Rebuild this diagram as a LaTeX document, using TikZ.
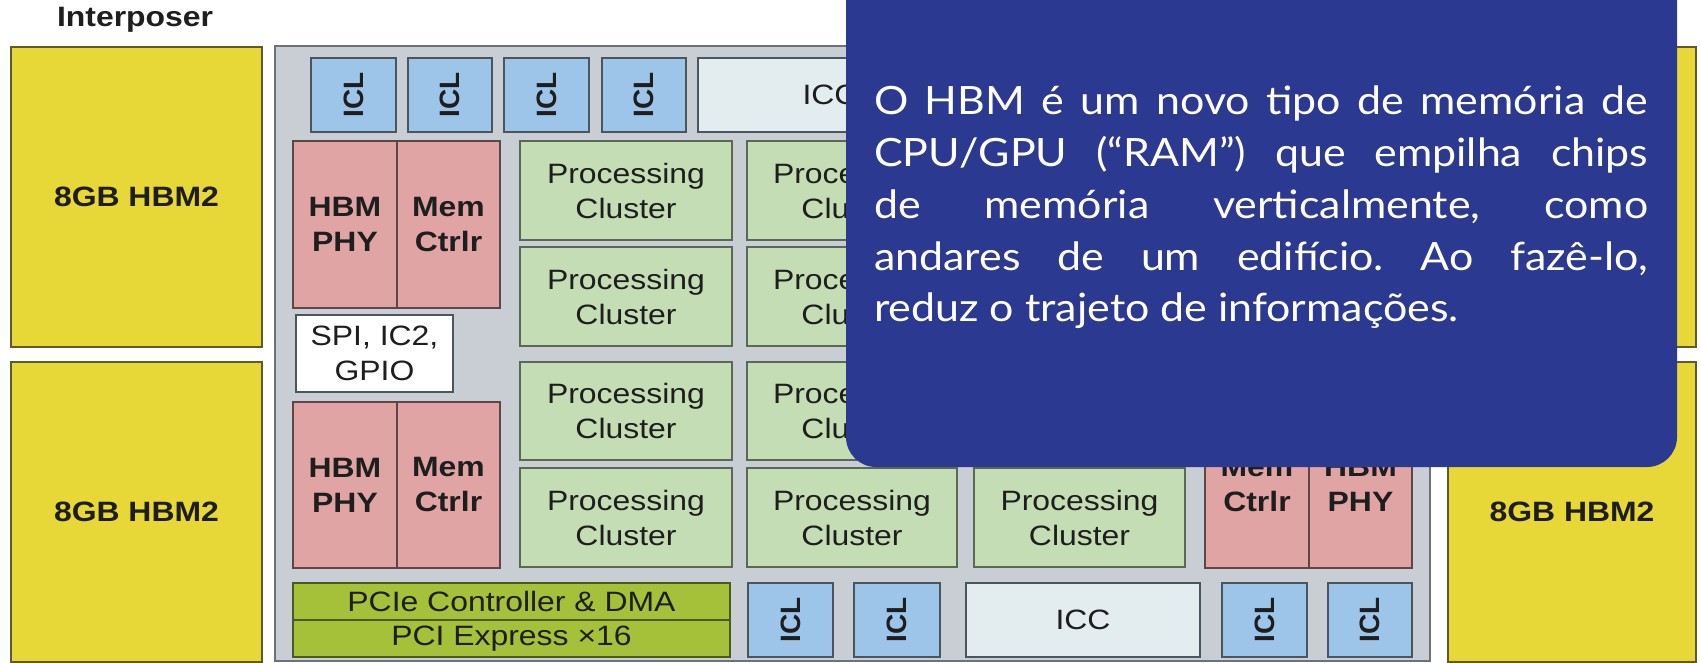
\documentclass[tikz,border=0pt]{standalone}
\usepackage{fontspec}
\newfontfamily\dg[FakeStretch=1.14]{Liberation Sans}
\newfontfamily\dgn{Liberation Sans}
\newfontfamily\ovf[FakeStretch=1.1]{Lato}
\definecolor{hbmy}{RGB}{231,216,56}
\definecolor{ybord}{RGB}{95,90,45}
\definecolor{diegray}{RGB}{201,205,212}
\definecolor{dieb}{RGB}{110,113,118}
\definecolor{iclblue}{RGB}{157,197,234}
\definecolor{iccc}{RGB}{227,237,240}
\definecolor{boxb}{RGB}{75,85,95}
\definecolor{pinkc}{RGB}{224,164,164}
\definecolor{pinkb}{RGB}{95,70,70}
\definecolor{pcg}{RGB}{197,221,181}
\definecolor{pcgb}{RGB}{90,105,85}
\definecolor{pcieg}{RGB}{165,193,58}
\definecolor{pciegb}{RGB}{75,90,30}
\definecolor{txt}{RGB}{30,30,30}
\definecolor{ovblue}{RGB}{43,57,144}
\newcommand\bx[7]{\node[#1,minimum width={#5-#3},minimum height={#6-#4},anchor=north west] (#2) at (#3,#4) {#7};}
\begin{document}
\begin{tikzpicture}[x=1pt,y=-1pt,
  base/.style={inner sep=0pt,outer sep=0pt,line width=1.8pt,align=center,text=txt,
    font=\dg\fontsize{28}{35}\selectfont},
  bold/.style={font=\dg\bfseries\fontsize{28}{35}\selectfont},
  yel/.style={base,bold,fill=hbmy,draw=ybord},
  die/.style={base,fill=diegray,draw=dieb},
  icl/.style={base,fill=iclblue,draw=boxb},
  icc/.style={base,fill=iccc,draw=boxb},
  pink/.style={base,bold,fill=pinkc,draw=pinkb},
  pc/.style={base,fill=pcg,draw=pcgb},
  pcie/.style={base,fill=pcieg,draw=pciegb},
  spi/.style={base,fill=white,draw=boxb},
  icltxt/.style={inner sep=0pt,rotate=90,text=txt,font=\dgn\bfseries\fontsize{28}{35}\selectfont},
  ovtxt/.style={inner sep=0pt,anchor=base west,text=white,align=left,
    font=\ovf\fontsize{39}{51.7}\selectfont}
]
\useasboundingbox (0,0) rectangle (1700,663);
\fill[white] (0,0) rectangle (1700,663);
\node[base,bold,anchor=base west] (title) at (57,27) {Interposer};
% HBM stacks
\bx{yel}{hbmA}{11}{47}{262}{347}{8GB HBM2}
\bx{yel}{hbmB}{11}{362}{262}{662}{8GB HBM2}
\bx{yel}{hbmC}{1448}{47}{1696}{347}{8GB HBM2}
\bx{yel}{hbmD}{1448}{362}{1696}{662}{8GB HBM2}
% die
\bx{die}{die}{275}{46}{1430}{661}{}
% top row
\bx{icl}{iclA}{311}{58}{396}{132}{}
\bx{icl}{iclB}{408}{58}{492}{132}{}
\bx{icl}{iclC}{504}{58}{589}{132}{}
\bx{icl}{iclD}{602}{58}{686}{132}{}
\bx{icc}{iccT}{698}{58}{962}{132}{ICC}
% left memory blocks
\bx{pink}{phyA}{293}{141}{397}{308}{HBM\\PHY}
\bx{pink}{mcA}{397}{141}{500}{308}{Mem\\Ctrlr}
\bx{spi}{spi}{296}{315}{453}{392}{SPI, IC2,\\GPIO}
\bx{pink}{phyB}{293}{402}{397}{568}{HBM\\PHY}
\bx{pink}{mcB}{397}{402}{500}{568}{Mem\\Ctrlr}
% right memory block
\bx{pink}{mcC}{1205}{401}{1309}{568}{Mem\\Ctrlr}
\bx{pink}{phyC}{1309}{401}{1412}{568}{HBM\\PHY}
% processing clusters
\bx{pc}{pc11}{520}{141}{732}{240}{Processing\\Cluster}
\bx{pc}{pc21}{520}{247}{732}{346}{Processing\\Cluster}
\bx{pc}{pc31}{520}{362}{732}{460}{Processing\\Cluster}
\bx{pc}{pc41}{520}{468}{732}{567}{Processing\\Cluster}
\bx{pc}{pc12}{747}{141}{957}{240}{Processing\\Cluster}
\bx{pc}{pc22}{747}{247}{957}{346}{Processing\\Cluster}
\bx{pc}{pc32}{747}{362}{957}{460}{Processing\\Cluster}
\bx{pc}{pc42}{747}{468}{957}{567}{Processing\\Cluster}
\bx{pc}{pc43}{974}{468}{1185}{567}{Processing\\Cluster}
% bottom row
\bx{pcie}{pcieA}{293}{583}{730}{620}{PCIe Controller \& DMA}
\bx{pcie}{pcieB}{293}{620}{730}{657}{PCI Express ×16}
\bx{icl}{iclE}{748}{583}{833}{657}{}
\bx{icl}{iclF}{854}{583}{940}{657}{}
\bx{icc}{iccB}{966}{583}{1200}{657}{ICC}
\bx{icl}{iclG}{1222}{583}{1307}{657}{}
\bx{icl}{iclH}{1328}{583}{1412}{657}{}
\foreach \n in {iclA,iclB,iclC,iclD,iclE,iclF,iclG,iclH}
  \node[icltxt] (t\n) at (\n.center) {ICL};
% overlay
\begin{scope}
\clip (0,0) rectangle (1700,663);
\fill[ovblue,rounded corners=30pt] (846,-60) rectangle (1677,467);
\end{scope}
\node[ovtxt] (note) at (874,115) {\frenchspacing\parbox[t]{774pt}{%
\makebox[774pt][s]{O HBM é um novo tipo de memória de}\\
\makebox[774pt][s]{CPU/GPU (“RAM”) que empilha chips}\\
\makebox[774pt][s]{de memória verticalmente, como}\\
\makebox[774pt][s]{andares de um edifício. Ao fazê-lo,}\\
\makebox[774pt][l]{reduz o trajeto de informações.}}};
\end{tikzpicture}
\end{document}
